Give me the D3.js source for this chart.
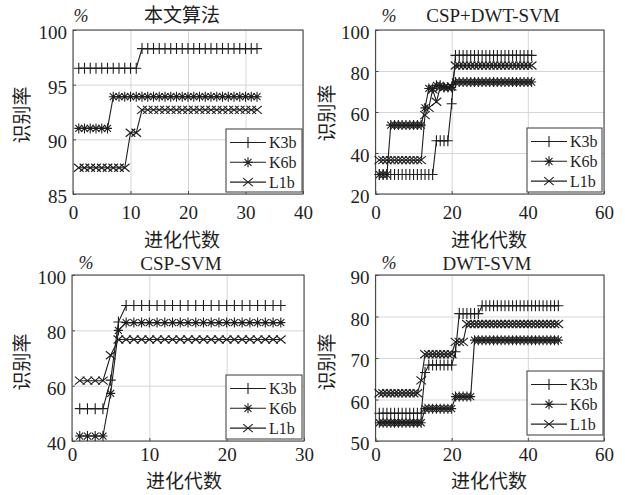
<!DOCTYPE html>
<html>
<head>
<meta charset="utf-8">
<script src="https://cdn.jsdelivr.net/npm/d3@7"></script>
<style>
  body { margin: 0; background: #fff; }
  svg { display: block; }
</style>
</head>
<body>
<div id="chart"></div>
<script>
// recognition rate (%) per generation, generation = index + 1
var seriesNames = ["K3b", "K6b", "L1b"];

// 本文算法
var algK3b = [96.5,96.5,96.5,96.5,96.5,96.5,96.5,96.5,96.5,96.5,96.5,
              98.3,98.3,98.3,98.3,98.3,98.3,98.3,98.3,98.3,98.3,
              98.3,98.3,98.3,98.3,98.3,98.3,98.3,98.3,98.3,98.3,98.3];
var algK6b = [91,91,91,91,91,91,
              93.9,93.9,93.9,93.9,93.9,93.9,93.9,93.9,93.9,93.9,
              93.9,93.9,93.9,93.9,93.9,93.9,93.9,93.9,93.9,93.9,
              93.9,93.9,93.9,93.9,93.9,93.9];
var algL1b = [87.4,87.4,87.4,87.4,87.4,87.4,87.4,87.4,87.4,
              90.6,90.6,
              92.7,92.7,92.7,92.7,92.7,92.7,92.7,92.7,92.7,92.7,
              92.7,92.7,92.7,92.7,92.7,92.7,92.7,92.7,92.7,92.7,92.7];

// CSP+DWT-SVM
var cdwK3b = [29.5,29.5,29.5,29.5,29.5,29.5,29.5,29.5,29.5,29.5,29.5,29.5,29.5,29.5,29.5,
              46,46,46,46,
              64,
              87.6,87.6,87.6,87.6,87.6,87.6,87.6,87.6,87.6,87.6,
              87.6,87.6,87.6,87.6,87.6,87.6,87.6,87.6,87.6,87.6,87.6];
var cdwK6b = [29.5,29.5,29.5,
              53.6,53.6,53.6,53.6,53.6,53.6,53.6,53.6,53.6,
              62,71.5,71.5,73,73,72,72,72,
              74.6,74.6,74.6,74.6,74.6,74.6,74.6,74.6,74.6,74.6,
              74.6,74.6,74.6,74.6,74.6,74.6,74.6,74.6,74.6,74.6,74.6];
var cdwL1b = [36.5,36.5,36.5,36.5,36.5,36.5,36.5,36.5,36.5,36.5,36.5,36.5,
              58.5,62,71,65,72,72,72,72.5,
              82.7,82.7,82.7,82.7,82.7,82.7,82.7,82.7,82.7,82.7,
              82.7,82.7,82.7,82.7,82.7,82.7,82.7,82.7,82.7,82.7,82.7];

// CSP-SVM
var cspK3b = [51.7,51.7,51.7,51.7,62,83,
              89,89,89,89,89,89,89,89,89,89,89,89,89,89,89,89,89,89,89,89,89];
var cspK6b = [41.8,41.8,41.8,41.8,57.2,80,
              82.8,82.8,82.8,82.8,82.8,82.8,82.8,82.8,82.8,82.8,82.8,
              82.8,82.8,82.8,82.8,82.8,82.8,82.8,82.8,82.8,82.8];
var cspL1b = [61.8,61.8,61.8,61.8,71,
              76.7,76.7,76.7,76.7,76.7,76.7,76.7,76.7,76.7,76.7,76.7,
              76.7,76.7,76.7,76.7,76.7,76.7,76.7,76.7,76.7,76.7,76.7];

// DWT-SVM
var dwtK3b = [56.7,56.7,56.7,56.7,56.7,56.7,56.7,56.7,56.7,56.7,56.7,56.7,
              66.5,
              68.3,68.3,68.3,68.3,68.3,68.3,68.3,
              71.5,
              80.7,80.7,80.7,80.7,80.7,80.7,
              82.6,82.6,82.6,82.6,82.6,82.6,82.6,82.6,82.6,82.6,
              82.6,82.6,82.6,82.6,82.6,82.6,82.6,82.6,82.6,82.6,82.6];
var dwtK6b = [54.4,54.4,54.4,54.4,54.4,54.4,54.4,54.4,54.4,54.4,54.4,54.4,
              57.8,57.8,57.8,57.8,57.8,57.8,57.8,57.8,
              60.7,60.7,60.7,60.7,60.7,
              74.3,74.3,74.3,74.3,74.3,74.3,74.3,74.3,74.3,74.3,74.3,74.3,
              74.3,74.3,74.3,74.3,74.3,74.3,74.3,74.3,74.3,74.3,74.3];
var dwtL1b = [61.5,61.5,61.5,61.5,61.5,61.5,61.5,61.5,61.5,61.5,61.5,
              64.6,
              70.9,70.9,70.9,70.9,70.9,70.9,70.9,70.9,
              73.9,73.9,73.9,
              78.2,78.2,78.2,78.2,78.2,78.2,78.2,78.2,78.2,78.2,78.2,78.2,78.2,
              78.2,78.2,78.2,78.2,78.2,78.2,78.2,78.2,78.2,78.2,78.2,78.2];

// titles and tick labels
var titles = ["本文算法", "CSP+DWT-SVM", "CSP-SVM", "DWT-SVM"];
var xTicks = [[0, 10, 20, 30, 40], [0, 20, 40, 60], [0, 10, 20, 30], [0, 20, 40, 60]];
var yTicks = [[85, 90, 95, 100], [20, 40, 60, 80, 100], [40, 60, 80, 100], [50, 60, 70, 80, 90]];
var yLabel = "识别率";
var xLabel = "进化代数";

var W = 625, H = 495;
var serif = "'Liberation Serif', 'Times New Roman', serif";
var cjk = "'Noto Sans CJK SC', sans-serif";
var ink = "#1e1e1e", boxColor = "#4a4a4a", gridColor = "#d6d6d6";

// markers for the three series
var markerPaths = [
  "M-5,0H5M0,-5.5V5.5",
  "M-4.5,0H4.5M0,-5V5M-3.5,-3.5L3.5,3.5M-3.5,3.5L3.5,-3.5",
  "M-4.8,-4L4.8,4M-4.8,4L4.8,-4"
];

var panels = [
  {data: [algK3b, algK6b, algL1b], left: 73, right: 303, top: 30, bottom: 194,
   titleX: 182, titleY: 15, pctX: 81, pctY: 16, xPad: 11.5, xlabX: 182, xlabY: 240,
   ylabX: 22, ylabY: 115, leg: {x: 226, y: 129, w: 76, h: 63}},
  {data: [cdwK3b, cdwK6b, cdwL1b], left: 375.5, right: 604, top: 30, bottom: 194,
   titleX: 493, titleY: 15, pctX: 389, pctY: 16, xPad: 11.5, xlabX: 489, xlabY: 240,
   ylabX: 327, ylabY: 113, leg: {x: 527, y: 128, w: 75, h: 64}},
  {data: [cspK3b, cspK6b, cspL1b], left: 72, right: 304, top: 275, bottom: 441,
   titleX: 181, titleY: 263, pctX: 86, pctY: 263, xPad: 6.5, xlabX: 184, xlabY: 481.5,
   ylabX: 22, ylabY: 362, leg: {x: 226, y: 375, w: 76, h: 64}},
  {data: [dwtK3b, dwtK6b, dwtL1b], left: 375.5, right: 604, top: 275, bottom: 441,
   titleX: 487, titleY: 263, pctX: 389, pctY: 263, xPad: 6.5, xlabX: 489, xlabY: 481.5,
   ylabX: 327, ylabY: 362, leg: {x: 527, y: 371, w: 76, h: 64}}
];

var svg = d3.select("#chart").append("svg")
    .attr("width", W)
    .attr("height", H)
    .style("background", "#fff");

panels.forEach(function (p, k) {
  var xt = xTicks[k], yt = yTicks[k];
  var x = d3.scaleLinear().domain([xt[0], xt[xt.length - 1]]).range([p.left, p.right]);
  var y = d3.scaleLinear().domain([yt[0], yt[yt.length - 1]]).range([p.bottom, p.top]);
  var g = svg.append("g");
  var h = p.bottom - p.top, w = p.right - p.left;

  // grid
  g.append("g")
      .attr("transform", "translate(0," + p.bottom + ")")
      .call(d3.axisBottom(x).tickValues(xt).tickSize(-h).tickFormat(""))
      .call(function (s) { s.select(".domain").remove(); })
      .selectAll("line").attr("stroke", gridColor);
  g.append("g")
      .attr("transform", "translate(" + p.left + ",0)")
      .call(d3.axisLeft(y).tickValues(yt).tickSize(-w).tickFormat(""))
      .call(function (s) { s.select(".domain").remove(); })
      .selectAll("line").attr("stroke", gridColor);

  // small inward ticks
  g.append("g")
      .attr("transform", "translate(0," + p.bottom + ")")
      .call(d3.axisBottom(x).tickValues(xt).tickSize(-3).tickFormat(""))
      .call(function (s) { s.select(".domain").remove(); })
      .selectAll("line").attr("stroke", boxColor);
  g.append("g")
      .attr("transform", "translate(" + p.left + ",0)")
      .call(d3.axisLeft(y).tickValues(yt).tickSize(-3).tickFormat(""))
      .call(function (s) { s.select(".domain").remove(); })
      .selectAll("line").attr("stroke", boxColor);

  // tick labels
  var xa = g.append("g")
      .attr("transform", "translate(0," + p.bottom + ")")
      .call(d3.axisBottom(x).tickValues(xt).tickSize(0).tickPadding(p.xPad));
  xa.select(".domain").remove();
  xa.selectAll("text").attr("font-family", serif).attr("font-size", 19).attr("fill", ink);

  var ya = g.append("g")
      .attr("transform", "translate(" + (p.left - 1) + ",2.5)")
      .call(d3.axisLeft(y).tickValues(yt).tickSize(0).tickPadding(5));
  ya.select(".domain").remove();
  ya.selectAll("text").attr("font-family", serif).attr("font-size", 19).attr("fill", ink);

  // box
  g.append("rect")
      .attr("x", p.left).attr("y", p.top)
      .attr("width", w).attr("height", h)
      .attr("fill", "none")
      .attr("stroke", boxColor)
      .attr("stroke-width", 1.1);

  // lines + markers
  var line = d3.line()
      .x(function (d, i) { return x(i + 1); })
      .y(function (d) { return y(d); });

  p.data.forEach(function (vals, s) {
    g.append("path")
        .datum(vals)
        .attr("d", line)
        .attr("fill", "none")
        .attr("stroke", ink)
        .attr("stroke-width", 1.1);
    g.selectAll(null)
        .data(vals)
        .enter().append("path")
        .attr("transform", function (d, i) { return "translate(" + x(i + 1) + "," + y(d) + ")"; })
        .attr("d", markerPaths[s])
        .attr("fill", "none")
        .attr("stroke", ink)
        .attr("stroke-width", 1.1);
  });

  // legend
  var L = p.leg;
  var lg = g.append("g").attr("transform", "translate(" + L.x + "," + L.y + ")");
  lg.append("rect")
      .attr("width", L.w).attr("height", L.h)
      .attr("fill", "#fff")
      .attr("stroke", boxColor)
      .attr("stroke-width", 1.1);
  seriesNames.forEach(function (name, s) {
    var ry = 13.5 + s * 19.8;
    lg.append("line")
        .attr("x1", 4).attr("x2", 40).attr("y1", ry).attr("y2", ry)
        .attr("stroke", ink).attr("stroke-width", 1.1);
    lg.append("path")
        .attr("transform", "translate(22," + ry + ")")
        .attr("d", markerPaths[s])
        .attr("fill", "none").attr("stroke", ink).attr("stroke-width", 1.1);
    lg.append("text")
        .attr("x", 43).attr("y", ry)
        .attr("dy", "0.35em")
        .attr("font-family", serif).attr("font-size", 16)
        .attr("fill", ink)
        .text(name);
  });

  // title, %, axis labels
  var titleIsCjk = /[\u4e00-\u9fff]/.test(titles[k]);
  g.append("text")
      .attr("x", p.titleX).attr("y", p.titleY)
      .attr("dy", "0.35em")
      .attr("text-anchor", "middle")
      .attr("font-family", titleIsCjk ? cjk : serif)
      .attr("font-size", 19)
      .attr("fill", ink)
      .text(titles[k]);
  g.append("text")
      .attr("x", p.pctX).attr("y", p.pctY)
      .attr("dy", "0.35em")
      .attr("text-anchor", "middle")
      .attr("font-family", serif).attr("font-style", "italic")
      .attr("font-size", 18)
      .attr("fill", ink)
      .text("%");
  g.append("text")
      .attr("x", p.xlabX).attr("y", p.xlabY)
      .attr("dy", "0.35em")
      .attr("text-anchor", "middle")
      .attr("font-family", cjk).attr("font-size", 19)
      .attr("fill", ink)
      .text(xLabel);
  g.append("text")
      .attr("transform", "translate(" + p.ylabX + "," + p.ylabY + ") rotate(-90)")
      .attr("dy", "0.35em")
      .attr("text-anchor", "middle")
      .attr("font-family", cjk).attr("font-size", 19)
      .attr("fill", ink)
      .text(yLabel);
});
</script>
</body>
</html>
